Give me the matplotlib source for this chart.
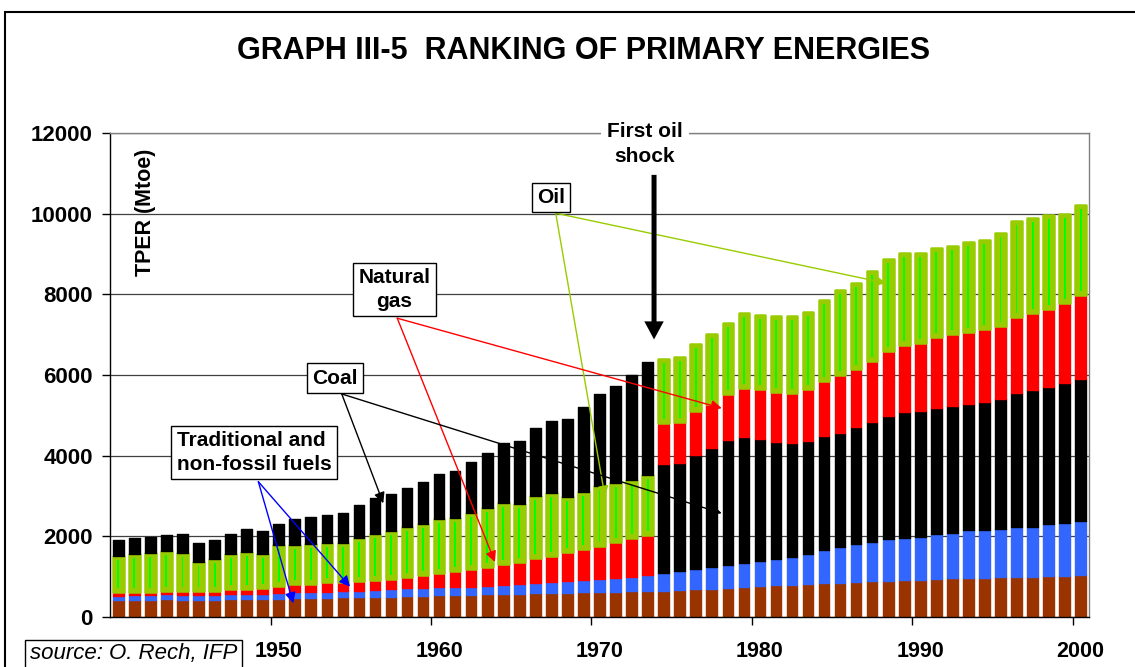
import matplotlib
matplotlib.use('Agg')
import matplotlib.pyplot as plt
from matplotlib.patches import Rectangle
import numpy as np

plt.rcParams['font.family'] = ['Liberation Sans', 'DejaVu Sans']

years = list(range(1940, 2001))

# Mtoe by source
traditional = [422, 430, 430, 438, 430, 430, 430, 447, 447, 447,
               446, 463, 463, 471, 488, 488, 504, 504, 521, 529,
               537, 546, 546, 562, 570, 579, 587, 603, 603, 612,
               612, 628, 637, 653, 653, 670, 686, 703, 719, 752,
               769, 785, 794, 810, 835, 851, 868, 893, 901, 918,
               926, 942, 959, 967, 975, 984, 1000, 1000, 1017, 1025,
               1033]
non_fossil = [107, 116, 116, 124, 116, 116, 116, 123, 123, 115,
              142, 149, 149, 149, 149, 165, 166, 182, 190, 190,
              199, 206, 206, 215, 224, 231, 248, 257, 282, 306,
              322, 347, 363, 380, 446, 479, 496, 529, 579, 595,
              628, 662, 702, 752, 827, 893, 942, 975, 1033, 1049,
              1066, 1116, 1132, 1182, 1174, 1190, 1224, 1240, 1289, 1314,
              1356]
gas = [83, 82, 82, 91, 99, 107, 107, 116, 133, 157,
       188, 206, 206, 248, 231, 248, 248, 265, 289, 323,
       363, 397, 447, 471, 520, 554, 620, 661, 719, 768,
       835, 893, 951, 1009, 1017, 1017, 1083, 1075, 1158, 1215,
       1240, 1248, 1256, 1289, 1372, 1422, 1446, 1529, 1612, 1670,
       1686, 1777, 1769, 1785, 1802, 1819, 1901, 1901, 1934, 1968,
       2075]
coal = [389, 397, 380, 397, 455, 462, 479, 504, 570, 570,
        520, 645, 678, 711, 760, 827, 893, 909, 959, 1050,
        1116, 1166, 1265, 1364, 1488, 1579, 1678, 1802, 1951, 2108,
        2281, 2414, 2612, 2802, 2687, 2662, 2844, 2967, 3083, 3125,
        3009, 2885, 2811, 2795, 2827, 2827, 2894, 2960, 3059, 3109,
        3109, 3117, 3150, 3142, 3183, 3224, 3323, 3390, 3390, 3472,
        3513]
oil = [909, 942, 967, 984, 950, 720, 778, 868, 901, 835,
       1010, 959, 992, 959, 959, 1058, 1132, 1182, 1232, 1264,
       1323, 1314, 1372, 1463, 1505, 1430, 1554, 1546, 1364, 1422,
       1480, 1447, 1447, 1488, 1595, 1612, 1670, 1753, 1760, 1844,
       1852, 1885, 1902, 1926, 1999, 2107, 2125, 2224, 2265, 2273,
       2232, 2207, 2191, 2224, 2216, 2314, 2381, 2364, 2340, 2207,
       2241]

SHOCK_YEAR = 1973
colors = {'traditional': '#993300', 'non_fossil': '#3366FF', 'gas': '#FF0000',
          'coal': '#000000', 'oil': '#99CC00'}
series = {'traditional': traditional, 'non_fossil': non_fossil, 'gas': gas,
          'coal': coal, 'oil': oil}
order_before = ['traditional', 'non_fossil', 'gas', 'oil', 'coal']
order_after = ['traditional', 'non_fossil', 'coal', 'gas', 'oil']

W, H = 1135, 667
fig = plt.figure(figsize=(W / 100, H / 100), dpi=100)
ax = fig.add_axes([110.3 / W, 50 / H, 978.4 / W, 484 / H])

x = np.arange(len(years))
ax.set_xlim(-0.5, len(years) - 0.5)
ax.set_ylim(0, 12000)
width = 0.66
# vertical inset of the bright stripe inside oil segments (4 px)
inset = 4 * 12000 / 484

for i, yr in enumerate(years):
    order = order_before if yr <= SHOCK_YEAR else order_after
    bottom = 0
    for key in order:
        v = series[key][i]
        c = colors[key]
        if key == 'oil':
            ax.bar(x[i], v, width, bottom=bottom, color=c, edgecolor=c,
                   linewidth=1.8, joinstyle='round', zorder=3)
            ax.bar(x[i], v - 2 * inset, 0.12, bottom=bottom + inset,
                   color='#00FF00', linewidth=0, zorder=4)
        else:
            ax.bar(x[i], v, width, bottom=bottom, color=c, edgecolor=c,
                   linewidth=1, joinstyle='round', zorder=3)
        bottom += v

# axes styling
ax.set_yticks(range(0, 12001, 2000))
ax.yaxis.grid(True, color='#404040', linewidth=0.9, zorder=0)
ax.set_axisbelow(True)
ax.tick_params(axis='y', direction='out', length=6, width=1, pad=6.5,
               labelsize=16)
for lab in ax.get_yticklabels():
    lab.set_fontweight('bold')

ax.set_xticks(np.arange(9.5, len(years), 10))
ax.set_xticklabels([])
ax.set_xticks(np.arange(10, len(years), 10), minor=True)
ax.set_xticklabels([str(years[i]) for i in range(10, len(years), 10)],
                   minor=True, fontweight='bold', fontsize=15.5)
ax.tick_params(axis='x', which='major', direction='out', length=6, width=1)
ax.tick_params(axis='x', which='minor', length=0, pad=17)

ax.spines['left'].set_color('black')
ax.spines['bottom'].set_color('black')
ax.spines['top'].set_color('#808080')
ax.spines['right'].set_color('#808080')
for s in ax.spines.values():
    s.set_linewidth(1)
    s.set_zorder(5)

fig.text(0.5141, 1 - 51 / H, 'GRAPH III-5  RANKING OF PRIMARY ENERGIES',
         ha='center', va='center', fontsize=22, fontweight='bold')
fig.text(145 / W, 1 - 212 / H, 'TPER (Mtoe)', rotation=90, ha='center',
         va='center', fontsize=15.5, fontweight='bold')

box = dict(boxstyle='square,pad=0.25', fc='white', ec='black', lw=1)
tfont = dict(fontsize=15, fontweight='bold', ha='center', va='center',
             zorder=10)

# callout lines: (anchor, [tips], colour)
callouts = [
    ((27.27, 10012), [(30.34, 2983), (47.86, 8276)], '#99CC00'),
    ((17.39, 7408), [(23.48, 1364), (37.62, 5176)], '#FF0000'),
    ((13.93, 5530), [(16.52, 2820), (37.62, 2572)], '#000000'),
    ((8.73, 3355), [(10.91, 340), (14.45, 751)], '#0000FF'),
]
for anchor, tips, c in callouts:
    for tip in tips:
        ax.annotate('', xy=tip, xytext=anchor, zorder=8,
                    arrowprops=dict(arrowstyle='-|>', color=c, lw=1,
                                    mutation_scale=16, shrinkA=0, shrinkB=0))

fig.text(551 / W, 1 - 197.5 / H, 'Oil', bbox=box, **tfont)
fig.text(394.5 / W, 1 - 289.5 / H, 'Natural\ngas', bbox=box, linespacing=1.3,
         **tfont)
fig.text(335 / W, 1 - 378 / H, 'Coal', bbox=box, **tfont)
fig.text(254 / W, 1 - 452.5 / H, 'Traditional and\nnon-fossil fuels',
         bbox=box, linespacing=1.3, multialignment='left', **tfont)

# first oil shock marker
ax.annotate('', xy=(33.4, 6882), xytext=(33.4, 10962), zorder=9,
            arrowprops=dict(arrowstyle='simple,head_width=14,head_length=13,tail_width=3.6',
                            mutation_scale=1, fc='black', ec='black', lw=0,
                            shrinkA=0, shrinkB=0))
fig.text(645 / W, 1 - 144 / H, 'First oil\nshock', linespacing=1.35,
         bbox=dict(boxstyle='square,pad=0.3', fc='white', ec='none'), **tfont)

# outer frame and source note
fig.patches.append(Rectangle((5 / W, -0.05), 1.1, 1 - 12 / H + 0.05,
                             transform=fig.transFigure, fill=False,
                             ec='black', lw=1.5))
fig.patches.append(Rectangle((25 / W, -0.05), 217 / W, 0.05 + 27 / H,
                             transform=fig.transFigure, fill=False,
                             ec='black', lw=1))
fig.text(30 / W, 1 - 654 / H, 'source: O. Rech, IFP', ha='left', va='center',
         fontsize=16, fontstyle='italic')

fig.savefig('out.png', dpi=100)
